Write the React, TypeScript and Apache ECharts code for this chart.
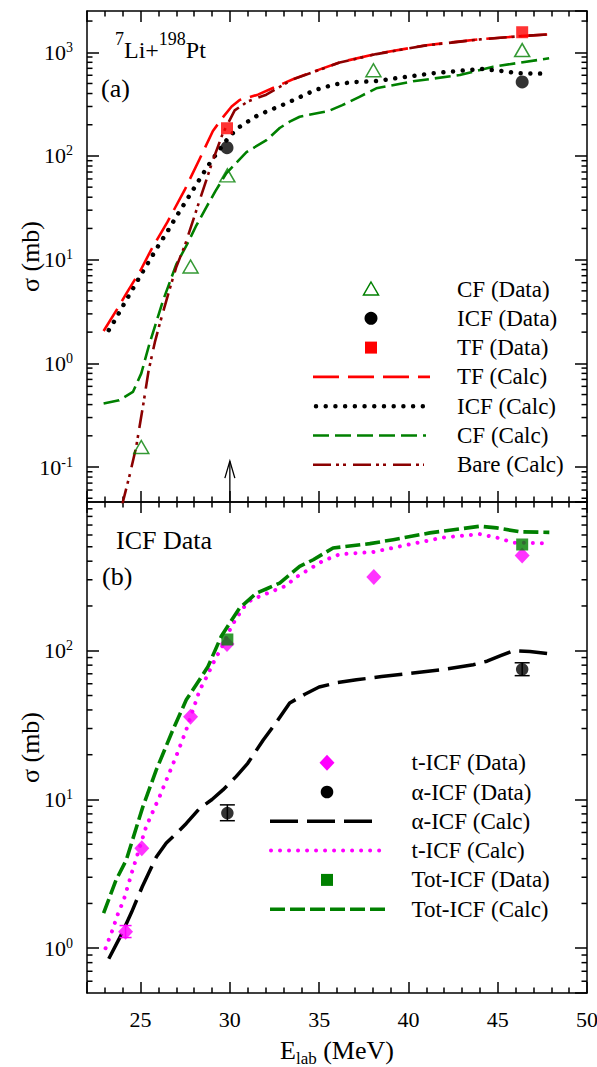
import React, { useEffect, useRef } from "react";
import * as echarts from "echarts";

const FONT = "'Liberation Serif', 'Times New Roman', Times, serif";
const RED = "#ff0000";
const GREEN = "#008000";
const MAROON = "#8b0000";
const MAGENTA = "#ff00ff";
const BLACK = "#000000";

const X_MIN = 22;
const X_MAX = 50;
const Y_RANGE_A = [0.046, 2500];
const Y_RANGE_B = [0.5, 1000];

// ---------- Panel (a): 7Li + 198Pt ----------
const cfDataA = [[25.04, 0.156], [27.8, 8.6], [29.86, 65], [38.04, 670], [46.37, 1050]];
const icfDataA = [[29.84, 120], [46.37, 517]];
const tfDataA = [[29.84, 185], [46.37, 1560]];

const tfCalc = [[22.93, 2.05], [23.72, 3.4], [24.2, 4.7], [25.0, 7.9], [25.6, 12.5], [26.5, 23], [27.47, 47], [28.3, 93], [29.05, 174], [29.6, 235], [30.1, 300], [30.55, 347], [31.57, 390], [32.8, 485], [33.6, 555], [35.0, 680], [36.15, 800], [38.2, 965], [41.0, 1170], [44.0, 1335], [46.5, 1440], [47.9, 1490]];
const icfCalc = [[23.22, 2.09], [23.54, 2.57], [24.16, 3.97], [25.09, 7.5], [26.07, 14.3], [26.44, 17.9], [27.0, 26], [27.75, 41.8], [28.77, 80], [29.3, 108], [29.95, 152], [30.45, 186], [31.57, 247], [33.17, 322], [34.79, 433], [35.87, 491], [36.99, 517], [38.07, 525], [39.7, 574], [41.33, 627], [42.98, 664], [44.04, 690], [45.12, 664], [46.2, 627], [47.83, 621]];
const cfCalc = [[22.93, 0.41], [23.8, 0.44], [24.57, 0.53], [25.04, 0.8], [25.5, 1.55], [26.25, 4.0], [27.0, 9.0], [27.6, 14], [28.1, 21], [28.68, 32], [29.2, 46], [29.8, 68], [30.93, 109], [32.05, 142], [32.79, 186], [33.35, 214], [33.91, 239], [35.02, 261], [35.5, 270], [36.3, 309], [37.26, 372], [38.2, 449], [40.26, 525], [42.88, 603], [44.75, 726], [47.88, 875]];
const bareCalc = [[23.95, 0.042], [24.4, 0.085], [24.75, 0.155], [25.15, 0.4], [25.45, 0.85], [25.8, 1.6], [26.1, 2.5], [26.6, 5.0], [27.0, 8.5], [27.5, 14], [28.3, 37], [29.05, 91], [29.6, 164], [30.27, 275], [31.0, 335], [32.04, 390], [33.5, 545], [35.0, 675], [36.15, 795], [38.2, 960], [41.0, 1165], [44.0, 1330], [46.5, 1440], [47.9, 1490]];
const arrowMark = [[30, 0.114]];

// ---------- Panel (b): ICF data ----------
const tIcfData = [[24.16, 1.29], [25.07, 4.7], [27.8, 36], [29.84, 111], [38.06, 313], [46.37, 436]];
const tIcfErr = [[24.16, 1.18, 1.42]];
const aIcfData = [[29.86, 8.1], [46.37, 75]];
const aIcfErr = [[29.86, 7.2, 9.2], [46.37, 68, 83]];
const totIcfData = [[29.86, 119], [46.37, 518]];

const aIcfCalc = [[23.22, 0.85], [23.9, 1.22], [24.5, 1.75], [25.1, 2.6], [25.88, 4.1], [26.44, 5.1], [27.0, 5.9], [27.56, 6.9], [28.3, 8.7], [29.0, 10.0], [29.61, 11.6], [30.36, 14.3], [31.0, 17.5], [31.86, 25], [32.6, 33], [33.35, 44.5], [34.2, 51], [35.0, 57], [36.0, 61], [37.09, 63.8], [38.5, 67], [40.26, 70.8], [42.0, 75], [43.63, 80.5], [44.4, 85], [45.2, 93], [45.87, 100], [46.8, 99], [47.89, 95.5]];
const tIcfCalc = [[23.04, 1.0], [23.4, 1.3], [23.73, 1.7], [24.05, 2.1], [24.57, 3.4], [25.32, 6.6], [26.07, 10.5], [27.0, 19.6], [27.56, 29.4], [28.3, 54], [28.68, 66], [29.16, 87], [29.63, 110], [30.09, 146], [30.74, 194], [31.2, 220], [32.23, 247], [33.17, 274], [33.63, 308], [35.2, 401], [36.15, 445], [38.02, 461], [40.08, 520], [41.95, 577], [44.0, 608], [44.94, 577], [45.87, 533], [47.89, 528]];
const totIcfCalc = [[22.93, 1.72], [23.63, 2.88], [24.2, 3.92], [25.13, 8.95], [25.88, 15.8], [26.81, 29.4], [27.56, 46.8], [28.3, 63.8], [28.77, 78], [29.52, 125], [29.99, 153], [30.55, 194], [31.49, 244], [32.1, 262], [32.79, 285], [33.91, 369], [34.67, 409], [35.78, 491], [37.84, 525], [39.15, 558], [41.2, 620], [44.0, 687], [44.94, 670], [46.24, 630], [47.89, 625]];

// ---------- Minor tick values of the log axes ----------
const minorTicksA = [0.05, 0.06, 0.07, 0.08, 0.09, 0.2, 0.3, 0.4, 0.5, 0.6, 0.7, 0.8, 0.9, 2, 3, 4, 5, 6, 7, 8, 9, 20, 30, 40, 50, 60, 70, 80, 90, 200, 300, 400, 500, 600, 700, 800, 900, 2000];
const minorTicksB = [0.6, 0.7, 0.8, 0.9, 2, 3, 4, 5, 6, 7, 8, 9, 20, 30, 40, 50, 60, 70, 80, 90, 200, 300, 400, 500, 600, 700, 800, 900];

// ---------- Legend labels ----------
const legendLabelsA = ["CF (Data)", "ICF (Data)", "TF (Data)", "TF (Calc)", "ICF (Calc)", "CF (Calc)", "Bare (Calc)"];
const legendLabelsB = ["t-ICF (Data)", "α-ICF (Data)", "α-ICF (Calc)", "t-ICF (Calc)", "Tot-ICF (Data)", "Tot-ICF (Calc)"];

// line styles
const lsTF = { color: RED, width: 2.6, type: [26, 9], cap: "butt" };
const lsICF = { color: BLACK, width: 4.5, type: [0.01, 9.7], cap: "round" };
const lsCF = { color: GREEN, width: 2.6, type: [16, 6], cap: "butt" };
const lsBare = { color: MAROON, width: 2.6, type: [18, 5, 3, 4, 3, 7], cap: "butt" };
const lsA = { color: BLACK, width: 3.5, type: [28, 9], cap: "butt" };
const lsT = { color: MAGENTA, width: 4, type: [0.01, 9], cap: "round" };
const lsTot = { color: GREEN, width: 3.6, type: [15, 5], cap: "butt" };

const powLabel = (v: number) => {
  const e = Math.log10(v);
  const r = Math.round(e);
  if (Math.abs(e - r) > 1e-6) return "";
  return `{b|10}{s|${r}}`;
};
const powRich = {
  b: { fontFamily: FONT, fontSize: 22, lineHeight: 24, color: BLACK },
  s: { fontFamily: FONT, fontSize: 14, lineHeight: 14, verticalAlign: "top", color: BLACK },
};

const axisLineStyle = { color: BLACK, width: 1.5 };

function xAxisDef(gridIndex: number, position: string, showLabel: boolean, name?: string) {
  return {
    type: "value",
    gridIndex,
    position,
    min: X_MIN,
    max: X_MAX,
    splitNumber: 5,
    minInterval: 5,
    maxInterval: 5,
    axisLine: { show: true, onZero: false, lineStyle: axisLineStyle },
    axisTick: { show: true, inside: true, length: 11, lineStyle: axisLineStyle },
    minorTick: { show: true, splitNumber: 5, length: 5.5, lineStyle: axisLineStyle },
    splitLine: { show: false },
    minorSplitLine: { show: false },
    axisLabel: { show: showLabel, showMinLabel: false, margin: 15, fontFamily: FONT, fontSize: 22, color: BLACK },
    name: name || "",
    nameLocation: "middle",
    nameGap: 40,
    nameMoveOverlap: false,
    nameTextStyle: {
      fontFamily: FONT,
      color: BLACK,
      rich: {
        n: { fontFamily: FONT, fontSize: 26, lineHeight: 34, color: BLACK },
        sub: { fontFamily: FONT, fontSize: 17, lineHeight: 17, verticalAlign: "bottom", color: BLACK },
      },
    },
  };
}

function yAxisDef(gridIndex: number, position: string, range: number[], showLabel: boolean, name?: string) {
  return {
    type: "log",
    logBase: 10,
    gridIndex,
    position,
    min: range[0],
    max: range[1],
    axisLine: { show: true, onZero: false, lineStyle: axisLineStyle },
    axisTick: { show: true, inside: true, length: 12, lineStyle: axisLineStyle },
    minorTick: { show: false },
    splitLine: { show: false },
    axisLabel: {
      show: showLabel,
      showMinLabel: false,
      showMaxLabel: false,
      margin: 14,
      formatter: powLabel,
      rich: powRich,
    },
    name: name || "",
    nameLocation: "middle",
    nameGap: 44,
    nameMoveOverlap: false,
    nameTextStyle: { fontFamily: FONT, fontSize: 26, color: BLACK },
  };
}

function lineSeries(name: string, data: number[][], ls: any, axis: number, z = 2) {
  return {
    name,
    type: "line",
    xAxisIndex: axis,
    yAxisIndex: axis,
    data,
    symbol: "none",
    showSymbol: false,
    smooth: false,
    clip: true,
    silent: true,
    z,
    lineStyle: { color: ls.color, width: ls.width, type: ls.type, cap: ls.cap, join: "round" },
  };
}

function scatterSeries(name: string, data: number[][], symbol: string, size: any, itemStyle: any, axis: number, z = 6) {
  return { name, type: "scatter", xAxisIndex: axis, yAxisIndex: axis, data, symbol, symbolSize: size, itemStyle, silent: true, z };
}

function minorTickSeries(values: number[], axis: number) {
  return {
    type: "custom",
    xAxisIndex: axis,
    yAxisIndex: axis,
    silent: true,
    z: 8,
    clip: false,
    data: values.map((v) => [X_MIN, v]),
    renderItem: (params: any, api: any) => {
      const cs = params.coordSys;
      const y = api.coord([api.value(0), api.value(1)])[1];
      const st = { stroke: BLACK, lineWidth: 1.5 };
      return {
        type: "group",
        children: [
          { type: "line", shape: { x1: cs.x, y1: y, x2: cs.x + 5.5, y2: y }, style: st },
          { type: "line", shape: { x1: cs.x + cs.width - 5.5, y1: y, x2: cs.x + cs.width, y2: y }, style: st },
        ],
      };
    },
  };
}

function errorBarSeries(data: number[][], color: string, half: number, axis: number) {
  return {
    type: "custom",
    xAxisIndex: axis,
    yAxisIndex: axis,
    silent: true,
    z: 5,
    data,
    renderItem: (params: any, api: any) => {
      const x = api.value(0);
      const lo = api.coord([x, api.value(1)]);
      const hi = api.coord([x, api.value(2)]);
      const st = { stroke: color, lineWidth: 1.5 };
      return {
        type: "group",
        children: [
          { type: "line", shape: { x1: lo[0], y1: lo[1], x2: hi[0], y2: hi[1] }, style: st },
          { type: "line", shape: { x1: lo[0] - half, y1: lo[1], x2: lo[0] + half, y2: lo[1] }, style: st },
          { type: "line", shape: { x1: hi[0] - half, y1: hi[1], x2: hi[0] + half, y2: hi[1] }, style: st },
        ],
      };
    },
  };
}

const arrowSeries = {
  type: "custom",
  xAxisIndex: 0,
  yAxisIndex: 0,
  silent: true,
  z: 7,
  clip: false,
  data: arrowMark,
  renderItem: (params: any, api: any) => {
    const tip = api.coord([api.value(0), api.value(1)]);
    const cs = params.coordSys;
    const base = cs.y + cs.height;
    const st = { stroke: BLACK, lineWidth: 1.3, fill: "none" };
    return {
      type: "group",
      children: [
        { type: "line", shape: { x1: tip[0], y1: tip[1], x2: tip[0], y2: base }, style: st },
        { type: "polyline", shape: { points: [[tip[0] - 5, tip[1] + 17], [tip[0], tip[1]], [tip[0] + 5, tip[1] + 17]] }, style: st },
      ],
    };
  },
};

// ---------- legend drawn as graphics ----------
function legendLine(x1: number, x2: number, y: number, ls: any) {
  return {
    type: "line",
    silent: true,
    shape: { x1, y1: y, x2, y2: y },
    style: { stroke: ls.color, lineWidth: ls.width, lineDash: ls.type, lineCap: ls.cap },
  };
}
function legendText(x: number, y: number, text: string) {
  return {
    type: "text",
    silent: true,
    x,
    y,
    style: { text, fontFamily: FONT, fontSize: 23, fill: BLACK, align: "left", verticalAlign: "middle" },
  };
}

const rowsA = [289, 318.3, 347.6, 376.9, 406.2, 435.5, 464.8];
const rowsB = [762.7, 792, 821.3, 850.6, 879.9, 909.2];
const cxA = 371;
const cxB = 327;
const textXA = 457;
const textXB = 411.5;

const legendGraphics: any[] = [
  // panel (a)
  { type: "polygon", silent: true, shape: { points: [[cxA, rowsA[0] - 7], [cxA + 7.5, rowsA[0] + 6], [cxA - 7.5, rowsA[0] + 6]] }, style: { fill: "none", stroke: GREEN, lineWidth: 1.5 } },
  { type: "circle", silent: true, shape: { cx: cxA, cy: rowsA[1], r: 6.5 }, style: { fill: BLACK } },
  { type: "rect", silent: true, shape: { x: cxA - 6, y: rowsA[2] - 6, width: 12, height: 12 }, style: { fill: RED } },
  legendLine(313, 430, rowsA[3], lsTF),
  legendLine(316, 425, rowsA[4], lsICF),
  legendLine(313, 426, rowsA[5], lsCF),
  legendLine(313, 424, rowsA[6], lsBare),
  ...legendLabelsA.map((t, i) => legendText(textXA, rowsA[i], t)),
  // panel (b)
  { type: "polygon", silent: true, shape: { points: [[cxB, rowsB[0] - 8], [cxB + 7.5, rowsB[0]], [cxB, rowsB[0] + 8], [cxB - 7.5, rowsB[0]]] }, style: { fill: MAGENTA } },
  { type: "circle", silent: true, shape: { cx: cxB, cy: rowsB[1], r: 6.3 }, style: { fill: BLACK } },
  legendLine(270, 373, rowsB[2], lsA),
  legendLine(271, 380, rowsB[3], lsT),
  { type: "rect", silent: true, shape: { x: cxB - 6, y: rowsB[4] - 6, width: 12, height: 12 }, style: { fill: GREEN } },
  legendLine(270, 385, rowsB[5], lsTot),
  ...legendLabelsB.map((t, i) => legendText(textXB, rowsB[i], t)),
];

const panelTexts: any[] = [
  {
    type: "text",
    silent: true,
    x: 115,
    y: 29.5,
    style: {
      text: "{s|7}{n|Li+}{s|198}{n|Pt}",
      align: "left",
      verticalAlign: "top",
      rich: {
        n: { fontFamily: FONT, fontSize: 24, lineHeight: 40, fill: BLACK, color: BLACK },
        s: { fontFamily: FONT, fontSize: 18, lineHeight: 18, verticalAlign: "top", fill: BLACK, color: BLACK },
      },
    },
  },
  { type: "text", silent: true, x: 101, y: 88.5, style: { text: "(a)", fontFamily: FONT, fontSize: 26, fill: BLACK, align: "left", verticalAlign: "middle" } },
  { type: "text", silent: true, x: 116, y: 540.5, style: { text: "ICF Data", fontFamily: FONT, fontSize: 26, fill: BLACK, align: "left", verticalAlign: "middle" } },
  { type: "text", silent: true, x: 102, y: 576.5, style: { text: "(b)", fontFamily: FONT, fontSize: 26, fill: BLACK, align: "left", verticalAlign: "middle" } },
];

const option: any = {
  animation: false,
  backgroundColor: "#ffffff",
  textStyle: { fontFamily: FONT },
  grid: [
    { left: 87, top: 11, width: 500, height: 491, containLabel: false, outerBoundsMode: "none" },
    { left: 87, top: 502, width: 500, height: 491, containLabel: false, outerBoundsMode: "none" },
  ],
  xAxis: [
    xAxisDef(0, "bottom", false),
    xAxisDef(0, "top", false),
    xAxisDef(1, "bottom", true, "{n|E}{sub|lab}{n| (MeV)}"),
    xAxisDef(1, "top", false),
  ],
  yAxis: [
    yAxisDef(0, "left", Y_RANGE_A, true, "σ (mb)"),
    yAxisDef(0, "right", Y_RANGE_A, false),
    yAxisDef(1, "left", Y_RANGE_B, true, "σ (mb)"),
    yAxisDef(1, "right", Y_RANGE_B, false),
  ],
  series: [
    // panel (a)
    lineSeries(legendLabelsA[5], cfCalc, lsCF, 0, 2),
    lineSeries(legendLabelsA[4], icfCalc, lsICF, 0, 3),
    lineSeries(legendLabelsA[3], tfCalc, lsTF, 0, 3),
    lineSeries(legendLabelsA[6], bareCalc, lsBare, 0, 4),
    scatterSeries(legendLabelsA[0], cfDataA, "triangle", [15, 13], { color: "rgba(0,0,0,0)", borderColor: GREEN, borderWidth: 1.5 }, 0),
    scatterSeries(legendLabelsA[1], icfDataA, "circle", 13, { color: BLACK }, 0),
    scatterSeries(legendLabelsA[2], tfDataA, "rect", 12, { color: RED }, 0),
    arrowSeries,
    minorTickSeries(minorTicksA, 0),
    // panel (b)
    lineSeries(legendLabelsB[2], aIcfCalc, lsA, 2, 2),
    lineSeries(legendLabelsB[3], tIcfCalc, lsT, 2, 3),
    lineSeries(legendLabelsB[5], totIcfCalc, lsTot, 2, 3),
    errorBarSeries(tIcfErr, MAGENTA, 6, 2),
    errorBarSeries(aIcfErr, BLACK, 7.5, 2),
    scatterSeries(legendLabelsB[0], tIcfData, "diamond", [15, 16], { color: MAGENTA }, 2),
    scatterSeries(legendLabelsB[1], aIcfData, "circle", 12.5, { color: BLACK }, 2),
    scatterSeries(legendLabelsB[4], totIcfData, "rect", 12, { color: GREEN }, 2, 7),
    minorTickSeries(minorTicksB, 2),
  ],
  graphic: [...legendGraphics, ...panelTexts],
};

export default function App() {
  const ref = useRef<HTMLDivElement>(null);
  useEffect(() => {
    if (!ref.current) return;
    const chart = echarts.init(ref.current, null, { renderer: "svg", width: 597, height: 1067 });
    chart.setOption(option);
    return () => {
      chart.dispose();
    };
  }, []);
  return (
    <div
      ref={ref}
      style={{ position: "fixed", left: 0, top: 0, width: 597, height: 1067, background: "#ffffff" }}
    />
  );
}
